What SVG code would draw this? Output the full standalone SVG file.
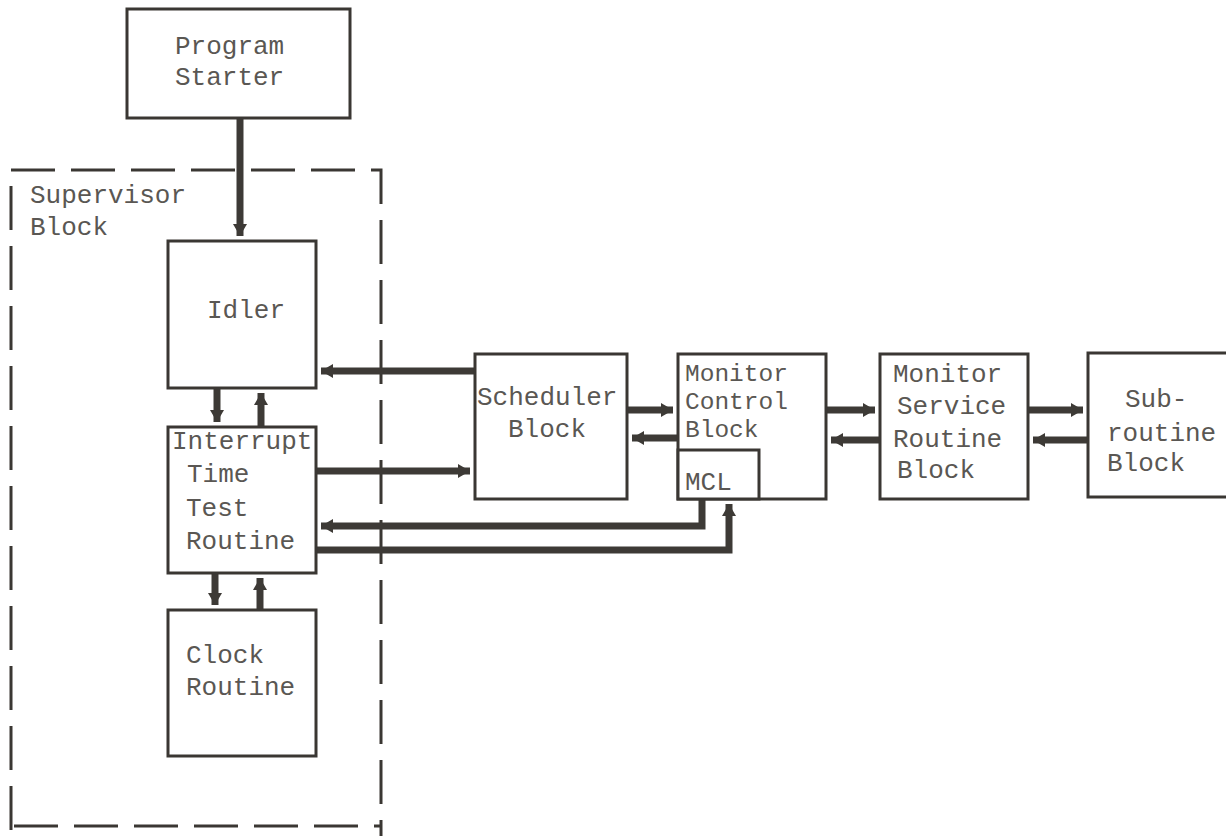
<svg xmlns="http://www.w3.org/2000/svg" width="1226" height="836" viewBox="0 0 1226 836">
<style>
.box{fill:#fff;stroke:#3a3733;stroke-width:3}
.t{font-family:"Liberation Mono","DejaVu Sans Mono",monospace;font-size:26px;fill:#5a5753}
.s{font-size:24.5px}
.c{fill:none;stroke:#3d3a36;stroke-width:7}
.dash{fill:none;stroke:#3a3733;stroke-width:3;stroke-dasharray:44 16}
</style>
<defs>
<marker id="ah" markerUnits="userSpaceOnUse" markerWidth="14" markerHeight="16" refX="12" refY="8" orient="auto">
<path d="M0,1 L12,8 L0,15 Z" fill="#3d3a36"/>
</marker>
</defs>
<rect width="1226" height="836" fill="#fff"/>
<g id="supervisor">
<path class="dash" d="M11,830 L11,170 L381,170 L381,836"/>
<path class="dash" d="M14,826 L381,826"/>
<text class="t" x="30" y="203">Supervisor</text>
<text class="t" x="30" y="235">Block</text>
</g>
<g id="connectors">
<path class="c" d="M240,118 L240,236" marker-end="url(#ah)"/>
<path class="c" d="M217,388 L217,422" marker-end="url(#ah)"/>
<path class="c" d="M261,427 L261,393" marker-end="url(#ah)"/>
<path class="c" d="M215,573 L215,605" marker-end="url(#ah)"/>
<path class="c" d="M260,610 L260,578" marker-end="url(#ah)"/>
<path class="c" d="M475,371 L321,371" marker-end="url(#ah)"/>
<path class="c" d="M316,471 L470,471" marker-end="url(#ah)"/>
<path class="c" d="M627,410 L673,410" marker-end="url(#ah)"/>
<path class="c" d="M678,438 L632,438" marker-end="url(#ah)"/>
<path class="c" d="M702,499 L702,526 L321,526" marker-end="url(#ah)"/>
<path class="c" d="M316,550 L729,550 L729,504" marker-end="url(#ah)"/>
<path class="c" d="M826,410 L875,410" marker-end="url(#ah)"/>
<path class="c" d="M880,440 L831,440" marker-end="url(#ah)"/>
<path class="c" d="M1028,410 L1083,410" marker-end="url(#ah)"/>
<path class="c" d="M1088,440 L1033,440" marker-end="url(#ah)"/>
</g>
<g id="program-starter">
<rect class="box" x="127" y="9" width="223" height="109"/>
<text class="t" x="175" y="54">Program</text>
<text class="t" x="175" y="85">Starter</text>
</g>
<g id="idler">
<rect class="box" x="168" y="241" width="148" height="147"/>
<text class="t" x="207" y="318">Idler</text>
</g>
<g id="interrupt">
<rect class="box" x="168" y="427" width="148" height="146"/>
<text class="t" x="172" y="449">Interrupt</text>
<text class="t" x="187" y="482">Time</text>
<text class="t" x="186" y="516">Test</text>
<text class="t" x="186" y="549">Routine</text>
</g>
<g id="clock">
<rect class="box" x="168" y="610" width="148" height="146"/>
<text class="t" x="186" y="663">Clock</text>
<text class="t" x="186" y="695">Routine</text>
</g>
<g id="scheduler">
<rect class="box" x="475" y="354" width="152" height="145"/>
<text class="t" x="477" y="405">Scheduler</text>
<text class="t" x="508" y="437">Block</text>
</g>
<g id="monitor-control">
<rect class="box" x="678" y="354" width="148" height="145"/>
<text class="t s" x="685" y="381">Monitor</text>
<text class="t s" x="685" y="409">Control</text>
<text class="t s" x="685" y="437">Block</text>
<rect class="box" x="678" y="450" width="81" height="49"/>
<text class="t" x="685" y="490">MCL</text>
</g>
<g id="monitor-service">
<rect class="box" x="880" y="354" width="148" height="145"/>
<text class="t" x="893" y="382">Monitor</text>
<text class="t" x="897" y="414">Service</text>
<text class="t" x="893" y="447">Routine</text>
<text class="t" x="897" y="478">Block</text>
</g>
<g id="subroutine">
<rect class="box" x="1088" y="353" width="150" height="144"/>
<text class="t" x="1125" y="407">Sub-</text>
<text class="t" x="1107" y="441">routine</text>
<text class="t" x="1107" y="471">Block</text>
</g>
</svg>
